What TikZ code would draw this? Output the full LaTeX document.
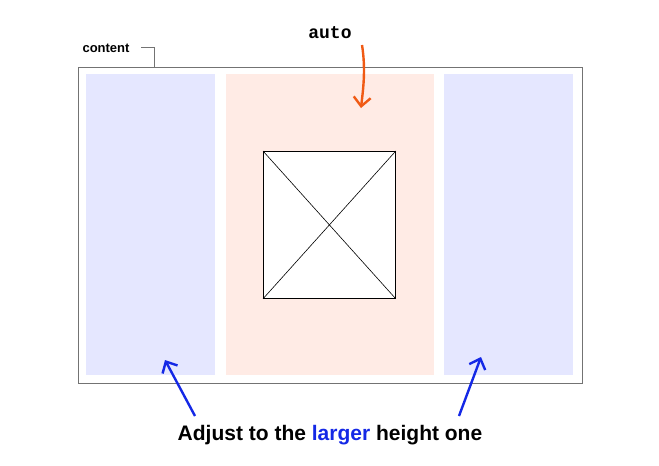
\documentclass[tikz,border=0pt]{standalone}
\usepackage{fontspec}
\setmainfont{Liberation Sans}
\setmonofont{Liberation Mono}
\usetikzlibrary{arrows.meta}
\definecolor{lb}{HTML}{E5E7FF}
\definecolor{pk}{HTML}{FFEBE5}
\definecolor{og}{HTML}{F05A14}
\definecolor{bl}{HTML}{1428E6}
\begin{document}
\begin{tikzpicture}[x=1pt,y=-1pt,
  arr/.style={draw=#1,line width=2.4pt,-{Straight Barb[length=9pt,width=17pt]}}]
\useasboundingbox (0,0) rectangle (659,466);
\node[draw=black!55,line width=1.2pt,minimum width=504pt,minimum height=316pt,inner sep=0,anchor=north west] (content) at (78,67) {};
\fill[lb] (86,74) rectangle (215,375);
\fill[pk] (226,74) rectangle (434,375);
\fill[lb] (444,74) rectangle (573,375);
\node[draw,fill=white,line width=0.8pt,minimum width=132pt,minimum height=147pt,inner sep=0,anchor=north west] (img) at (263,151) {};
\draw[line width=0.6pt] (img.north west) -- (img.south east) (img.north east) -- (img.south west);
\node[font=\bfseries\fontsize{13}{14}\selectfont] (lbl) at (106,48) {content};
\coordinate (c1) at (154,67);
\draw[black!55,line width=0.8pt] (141,47) -- (154,47) -- (c1);
\node[font=\ttfamily\bfseries\fontsize{18}{19}\selectfont] (auto) at (330,33) {auto};
\coordinate (a1) at (362,45); \coordinate (a2) at (361,108);
\draw[arr=og] (a1) .. controls (366,70) and (363,90) .. (a2);
\node[font=\bfseries\fontsize{21}{22}\selectfont] (txt) at (330,435) {Adjust to the \textcolor{bl}{larger} height one};
\coordinate (b1) at (195,416); \coordinate (b2) at (165,360);
\coordinate (b3) at (459,416); \coordinate (b4) at (481,357);
\draw[arr=bl] (b1) -- (b2);
\draw[arr=bl] (b3) -- (b4);
\end{tikzpicture}
\end{document}
